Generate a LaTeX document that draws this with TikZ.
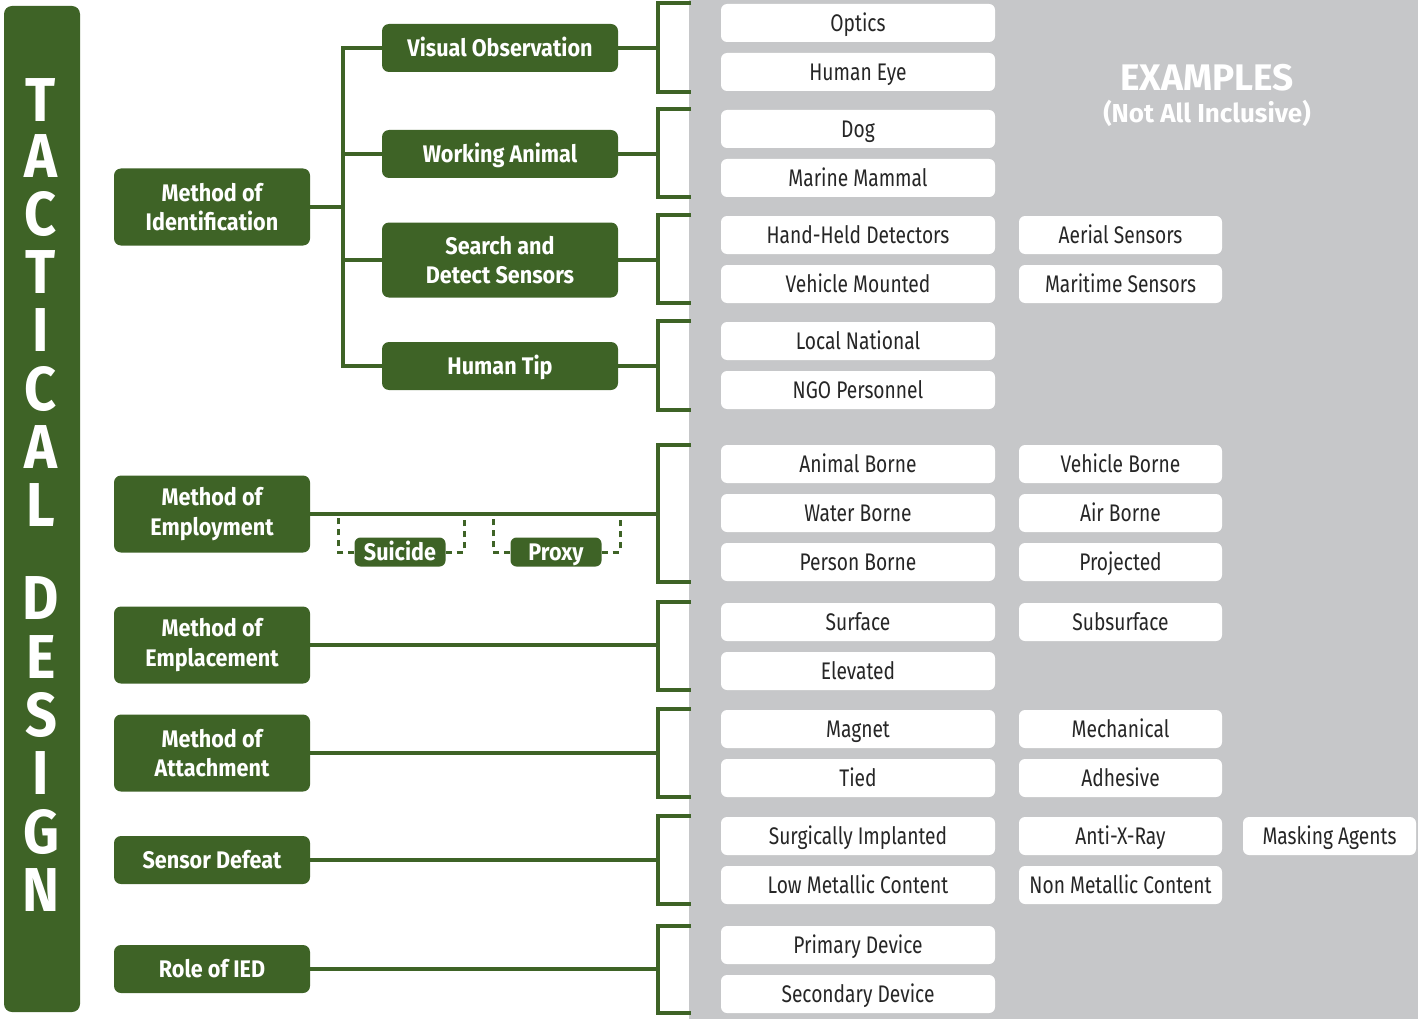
\documentclass[tikz,border=0pt]{standalone}
\usepackage{fontspec}
\setmainfont{Fira Sans}[FakeStretch=0.8, BoldFeatures={FakeStretch=0.9}]
\newfontfamily\widefont{Fira Sans}
\definecolor{tgreen}{HTML}{3E6326}
\definecolor{panelgray}{HTML}{C6C7C9}
\begin{document}
\begin{tikzpicture}[x=1pt,y=-1pt,
  gbox/.style={fill=tgreen,rounded corners=7pt,text=white,align=center,inner sep=0pt,
    font=\bfseries\fontsize{24}{29.5}\selectfont},
  oneline/.style={text height=20pt,text depth=3pt},
  catbox/.style={gbox,minimum width=196pt,minimum height=77pt},
  catthin/.style={gbox,oneline,minimum width=196pt,minimum height=48pt},
  subbox/.style={gbox,minimum width=236pt,minimum height=48pt},
  onebox/.style={subbox,oneline},
  tagbox/.style={gbox,oneline,rounded corners=6pt,minimum width=91pt,minimum height=29pt},
  ex/.style={fill=white,rounded corners=6pt,inner sep=0pt,minimum height=38pt,
    oneline,text=black!85,font=\fontsize{24}{29}\selectfont},
  exa/.style={ex,minimum width=274pt},
  exb/.style={ex,minimum width=203pt},
  exc/.style={ex,minimum width=173pt},
  link/.style={draw=tgreen,line width=4pt},
  dashlink/.style={draw=tgreen,line width=3pt,dash pattern=on 6pt off 5pt},
  letter/.style={text=white,inner sep=0pt,font=\bfseries\fontsize{62}{62}\selectfont}
]
\useasboundingbox (0,0) rectangle (1418,1019);

% examples panel
\fill[panelgray] (689,0) rectangle (1418,1019);
\node[text=white,font=\widefont\bfseries\fontsize{37}{40}\selectfont] (exhead) at (1207,78) {EXAMPLES};
\node[text=white,font=\widefont\bfseries\fontsize{26}{29}\selectfont] (exsub) at (1207,113) {(Not All Inclusive)};

% vertical title bar
\fill[tgreen,rounded corners=8pt] (4,6) rectangle (80,1012);
\foreach \ch/\yy [count=\i] in {T/100,A/156,C/214,T/272,I/330,C/389,A/447,L/505,
  D/598,E/657,S/715,I/773,G/832,N/890}
  \node[letter] (let\i) at (41,\yy) {\ch};

% categories
\node[catbox] (ident) at (212,207) {Method of\\Identification};
\node[catbox] (employ) at (212,514) {Method of\\Employment};
\node[catbox] (emplace) at (212,645) {Method of\\Emplacement};
\node[catbox] (attach) at (212,753) {Method of\\Attachment};
\node[catthin] (defeat) at (212,860) {Sensor Defeat};
\node[catthin] (role) at (212,969) {Role of IED};

% identification branches
\node[onebox] (visual) at (500,48) {Visual Observation};
\node[onebox] (animal) at (500,154) {Working Animal};
\node[subbox,minimum height=75pt] (sensors) at (500,260) {Search and\\Detect Sensors};
\node[onebox] (tip) at (500,366) {Human Tip};

\coordinate (trunk) at (343,207);
\draw[link] (ident.east) -- (trunk);
\foreach \n in {visual,animal,sensors,tip}
  \draw[link] (\n.west) -| (trunk);

% brackets into the examples panel
\foreach \nm/\top/\bot in {visual/3/92, animal/109/197, sensors/215/303, tip/321/410,
  employ/445/582, emplace/602/690, attach/709/797, defeat/816/904, role/926/1013}{
  \coordinate (\nm-bt) at (658,\top);
  \coordinate (\nm-bb) at (658,\bot);
  \draw[link] (\nm.east) -- (\nm.east -| \nm-bt);
  \draw[link,line join=miter] (691,\top) -- (\nm-bt) -- (\nm-bb) -- (691,\bot);
}

% employment variants
\node[tagbox] (suicide) at (400,552) {Suicide};
\node[tagbox] (proxy) at (556,552) {Proxy};
\coordinate (sul) at (338,516);
\coordinate (sur) at (464,516);
\coordinate (prl) at (493,516);
\coordinate (prr) at (620,516);
\draw[dashlink] (suicide.west) -| (sul);
\draw[dashlink] (suicide.east) -| (sur);
\draw[dashlink] (proxy.west) -| (prl);
\draw[dashlink] (proxy.east) -| (prr);

% examples
\node[exa] (e1) at (858,23) {Optics};
\node[exa] (e2) at (858,72) {Human Eye};
\node[exa] (e3) at (858,129) {Dog};
\node[exa] (e4) at (858,178) {Marine Mammal};
\node[exa] (e5) at (858,235) {Hand-Held Detectors};
\node[exb] (e5b) at (1120.5,235) {Aerial Sensors};
\node[exa] (e6) at (858,284) {Vehicle Mounted};
\node[exb] (e6b) at (1120.5,284) {Maritime Sensors};
\node[exa] (e7) at (858,341) {Local National};
\node[exa] (e8) at (858,390) {NGO Personnel};
\node[exa] (e9) at (858,464) {Animal Borne};
\node[exb] (e9b) at (1120.5,464) {Vehicle Borne};
\node[exa] (e10) at (858,513) {Water Borne};
\node[exb] (e10b) at (1120.5,513) {Air Borne};
\node[exa] (e11) at (858,562) {Person Borne};
\node[exb] (e11b) at (1120.5,562) {Projected};
\node[exa] (e12) at (858,622) {Surface};
\node[exb] (e12b) at (1120.5,622) {Subsurface};
\node[exa] (e13) at (858,671) {Elevated};
\node[exa] (e14) at (858,729) {Magnet};
\node[exb] (e14b) at (1120.5,729) {Mechanical};
\node[exa] (e15) at (858,778) {Tied};
\node[exb] (e15b) at (1120.5,778) {Adhesive};
\node[exa] (e16) at (858,836) {Surgically Implanted};
\node[exb] (e16b) at (1120.5,836) {Anti-X-Ray};
\node[exc] (e16c) at (1329.5,836) {Masking Agents};
\node[exa] (e17) at (858,885) {Low Metallic Content};
\node[exb] (e17b) at (1120.5,885) {Non Metallic Content};
\node[exa] (e18) at (858,945) {Primary Device};
\node[exa] (e19) at (858,994) {Secondary Device};
\end{tikzpicture}
\end{document}
